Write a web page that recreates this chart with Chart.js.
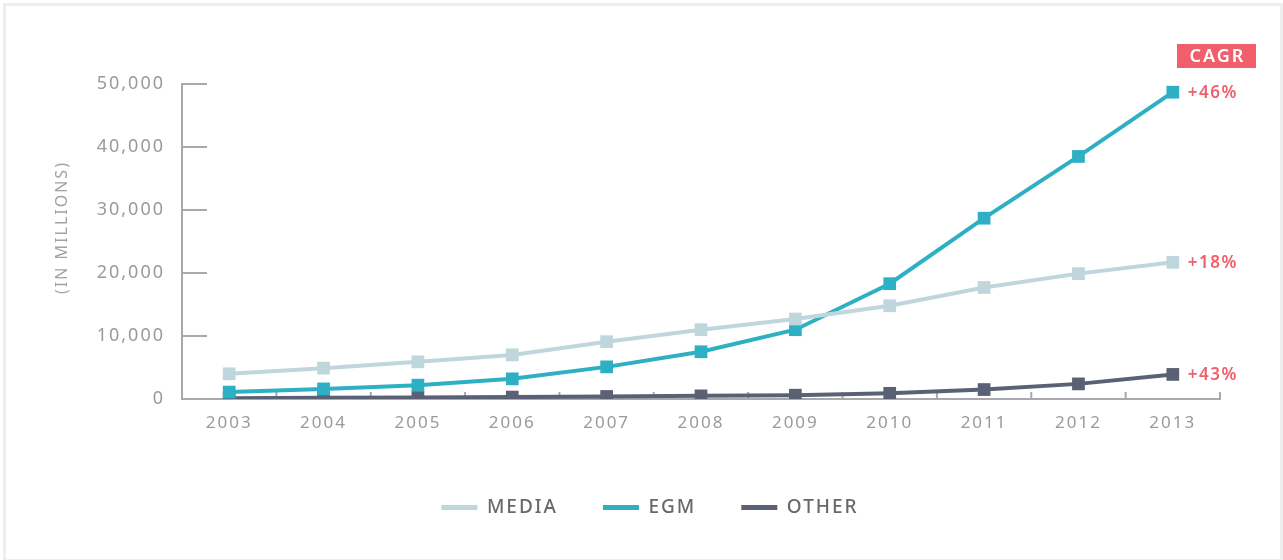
<!DOCTYPE html>
<html>
<head>
<meta charset="utf-8">
<script src="https://cdn.jsdelivr.net/npm/chart.js@4"></script>
<style>
  html, body { margin: 0; padding: 0; background: #ffffff; }
  #wrap { width: 1283px; height: 560px; position: relative; }
  canvas { display: block; }
</style>
</head>
<body>
<div id="wrap"><canvas id="c" width="1283" height="560"></canvas></div>
<script>
const years = ['2003','2004','2005','2006','2007','2008','2009','2010','2011','2012','2013'];
const mediaValues = [4000, 4900, 5900, 7000, 9100, 11000, 12700, 14800, 17700, 19900, 21700];
const egmValues   = [1100, 1600, 2200, 3200, 5100, 7500, 11000, 18300, 28700, 38500, 48700];
const otherValues = [100, 200, 250, 300, 400, 500, 600, 900, 1500, 2400, 3900];
const seriesNames = ['MEDIA', 'EGM', 'OTHER'];
const cagrLabels  = ['+18%', '+46%', '+43%'];
const cagrTitle   = 'CAGR';
const yTickValues = [0, 10000, 20000, 30000, 40000, 50000];
const yAxisTitle  = '(IN MILLIONS)';

const colors = ['#bfd6dd', '#2eb0c4', '#5b6174'];
const axisColor = '#a9a9ad';
const accent = '#f1606a';
const FONT = "'Noto Sans', sans-serif";
const SPACING = '2px';

const setSpacing = chart => { chart.ctx.letterSpacing = SPACING; };

const decorPlugin = {
  id: 'decor',
  beforeInit: setSpacing,
  beforeUpdate: setSpacing,
  beforeLayout: setSpacing,
  afterLayout(chart) {
    const lg = chart.legend;
    lg.left += 40;
    lg.right += 40;
  },
  beforeDraw(chart) {
    setSpacing(chart);
    const ctx = chart.ctx;
    ctx.save();
    ctx.strokeStyle = '#eeeeee';
    ctx.lineWidth = 3;
    ctx.strokeRect(4.5, 4.5, chart.width - 6, chart.height - 4);
    const ca = chart.chartArea;
    ctx.translate(ca.left - 120, (ca.top + ca.bottom) / 2 - 13);
    ctx.rotate(-Math.PI / 2);
    ctx.fillStyle = '#a3a3a6';
    ctx.font = "16px " + FONT;
    ctx.textAlign = 'center';
    ctx.textBaseline = 'middle';
    ctx.fillText(yAxisTitle, 1, 0);
    ctx.restore();
  },
  beforeDatasetsDraw(chart) {
    const ctx = chart.ctx;
    const x = chart.scales.x, y = chart.scales.y;
    ctx.save();
    ctx.strokeStyle = axisColor;
    ctx.lineWidth = 2;
    ctx.beginPath();
    y.ticks.forEach(t => {
      const py = Math.round(y.getPixelForValue(t.value));
      ctx.moveTo(y.right, py);
      ctx.lineTo(y.right + 25, py);
    });
    const n = years.length;
    for (let i = 1; i <= n; i++) {
      const px = x.left + i * (x.width / n);
      ctx.moveTo(px, x.top);
      ctx.lineTo(px, x.top - 7);
    }
    ctx.stroke();
    ctx.restore();
  },
  afterDatasetsDraw(chart) {
    const ctx = chart.ctx;
    ctx.save();
    ctx.letterSpacing = '1.5px';
    ctx.font = "600 17px " + FONT;
    ctx.fillStyle = accent;
    ctx.textAlign = 'left';
    ctx.textBaseline = 'middle';
    chart.data.datasets.forEach((ds, i) => {
      const meta = chart.getDatasetMeta(i);
      const pt = meta.data[meta.data.length - 1];
      ctx.fillText(cagrLabels[i], pt.x + 15, pt.y + 1);
    });
    const ca = chart.chartArea;
    const bx = ca.right - 43, by = ca.top - 40, bw = 79, bh = 24;
    ctx.fillStyle = accent;
    ctx.fillRect(bx, by, bw, bh);
    ctx.fillStyle = '#ffffff';
    ctx.letterSpacing = '2px';
    ctx.font = "600 18px " + FONT;
    ctx.textAlign = 'center';
    ctx.fillText(cagrTitle, bx + bw / 2 + 1, by + bh / 2 + 1);
    ctx.restore();
  }
};

const mk = (label, data, color) => ({
  label, data,
  borderColor: color,
  backgroundColor: color,
  borderWidth: 4,
  pointStyle: 'rect',
  pointRadius: 9,
  pointHoverRadius: 9,
  pointBorderWidth: 0,
  pointBackgroundColor: color,
  tension: 0,
  fill: false
});

new Chart(document.getElementById('c'), {
  type: 'line',
  data: {
    labels: years,
    datasets: [
      mk(seriesNames[0], mediaValues, colors[0]),
      mk(seriesNames[1], egmValues, colors[1]),
      mk(seriesNames[2], otherValues, colors[2])
    ]
  },
  options: {
    responsive: false,
    animation: false,
    events: [],
    layout: { padding: { left: 0, right: 63, top: 84, bottom: 33 } },
    plugins: {
      tooltip: { enabled: false },
      legend: {
        position: 'bottom',
        labels: {
          boxWidth: 36,
          boxHeight: 5,
          padding: 45,
          color: '#68696d',
          font: { family: FONT, size: 19, weight: '500' },
          generateLabels(chart) {
            return chart.data.datasets.map((ds, i) => ({
              text: ds.label,
              fillStyle: ds.borderColor,
              strokeStyle: ds.borderColor,
              fontColor: '#68696d',
              lineWidth: 0,
              datasetIndex: i
            }));
          }
        }
      }
    },
    scales: {
      x: {
        offset: true,
        grid: { display: false, drawTicks: false },
        border: { display: true, color: axisColor, width: 2 },
        ticks: { color: '#9a9a9d', font: { family: FONT, size: 17 }, padding: 14, maxRotation: 0 },
        afterFit(scale) { scale.height = 54; }
      },
      y: {
        min: 0, max: 50000,
        grid: { display: false, drawTicks: false },
        border: { display: true, color: axisColor, width: 2 },
        afterBuildTicks(scale) { scale.ticks = yTickValues.map(v => ({ value: v })); },
        ticks: {
          color: '#9a9a9d',
          font: { family: FONT, size: 18 },
          padding: 17,
          callback: v => v.toLocaleString('en-US')
        },
        afterFit(scale) { scale.width = 182; }
      }
    }
  },
  plugins: [decorPlugin]
});
</script>
</body>
</html>
